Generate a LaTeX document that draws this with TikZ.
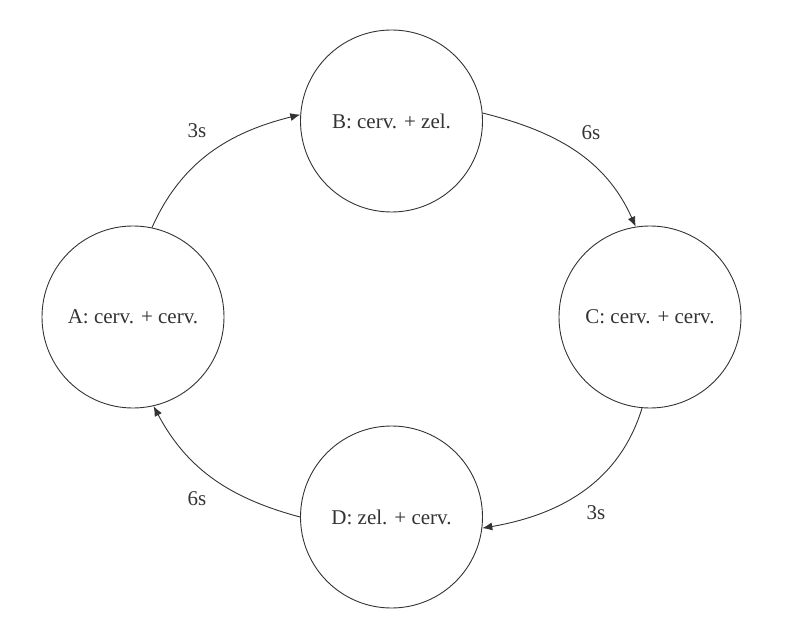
\documentclass[tikz,border=0pt]{standalone}
\usepackage{fontspec}
\setmainfont{Liberation Serif}
\usetikzlibrary{arrows.meta}
\begin{document}
\begin{tikzpicture}[x=1pt,y=1pt,
  state/.style={circle,draw=black!80,line width=0.9pt,minimum size=182pt,inner sep=0pt,font=\fontsize{21}{24}\selectfont,text=black!80},
  conn/.style={draw=black!80,line width=0.9pt,-{Latex[length=10pt,width=8pt]}},
  lbl/.style={font=\fontsize{21}{24}\selectfont,text=black!80}]
\useasboundingbox (0,0) rectangle (800,638);
\node[state] (A) at (133,321) {A: cerv. + cerv.};
\node[state] (B) at (391.5,517) {B: cerv. + zel.};
\node[state] (C) at (650,321) {C: cerv. + cerv.};
\node[state] (D) at (391.5,121) {D: zel. + cerv.};
\draw[conn] (A.78.7) to[out=66,in=-166] (B.176.9);
\draw[conn] (B.5.6) to[out=-14,in=114] (C.99);
\draw[conn] (C.265) to[out=-107,in=9.7] (D.-7.7);
\draw[conn] (D.180) to[out=165,in=-62] (A.-77.7);
\node[lbl] (l1) at (197,507) {3s};
\node[lbl] (l2) at (591,505) {6s};
\node[lbl] (l3) at (596,125) {3s};
\node[lbl] (l4) at (197,139) {6s};
\end{tikzpicture}
\end{document}
